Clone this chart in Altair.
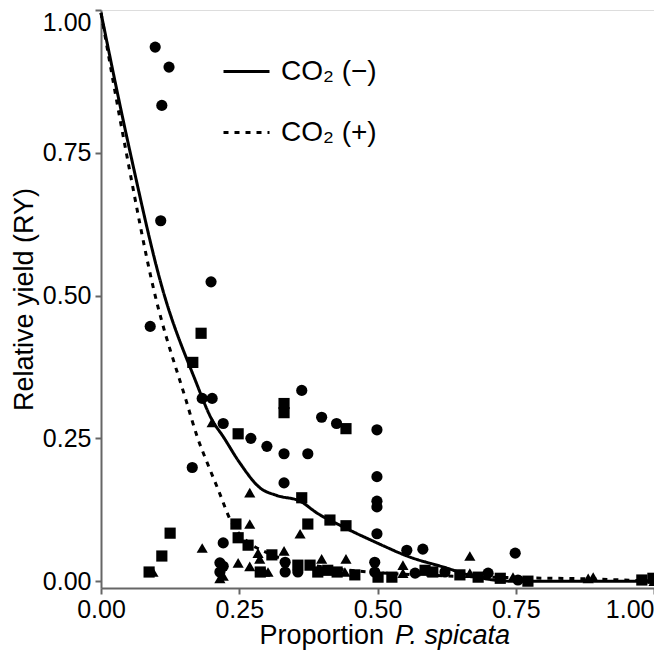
import altair as alt
import pandas as pd

# ---- data ----
x_ticks = [0.0, 0.25, 0.5, 0.75, 1.0]
y_ticks = [0.0, 0.25, 0.5, 0.75, 1.0]

pt_x = [0.098, 0.123, 0.110, 0.108, 0.199, 0.089, 0.181, 0.166, 0.183, 0.201, 0.201, 0.221, 0.248, 0.271,
        0.300, 0.165, 0.269, 0.269, 0.244, 0.248, 0.125, 0.183, 0.221, 0.110, 0.094, 0.087, 0.221, 0.221,
        0.248, 0.269, 0.287, 0.296,
        0.363, 0.331, 0.331, 0.399, 0.426, 0.443, 0.499, 0.331, 0.374, 0.499, 0.331, 0.499, 0.499, 0.363,
        0.374, 0.360, 0.499, 0.414, 0.443, 0.553, 0.582, 0.667, 0.749, 0.331, 0.399, 0.443,
        0.309, 0.333, 0.302, 0.333, 0.356, 0.356, 0.378, 0.392, 0.410, 0.427, 0.441, 0.459, 0.495, 0.495,
        0.501, 0.526,
        0.546, 0.546, 0.568, 0.586, 0.600, 0.622, 0.649, 0.667, 0.682, 0.700, 0.722, 0.745,
        0.754, 0.772, 0.881, 0.890, 0.978, 0.998, 1.000,
        0.215, 0.215, 0.215, 0.284, 0.288, 0.266]
pt_y = [0.935, 0.900, 0.833, 0.631, 0.524, 0.446, 0.434, 0.383, 0.320, 0.320, 0.278, 0.276, 0.258, 0.250,
        0.236, 0.199, 0.155, 0.100, 0.100, 0.076, 0.084, 0.058, 0.067, 0.044, 0.016, 0.016, 0.026, 0.009,
        0.032, 0.026, 0.039, 0.016,
        0.334, 0.311, 0.295, 0.287, 0.276, 0.267, 0.265, 0.223, 0.223, 0.183, 0.172, 0.140, 0.130, 0.146,
        0.100, 0.083, 0.083, 0.107, 0.097, 0.054, 0.056, 0.044, 0.049, 0.053, 0.039, 0.039,
        0.046, 0.033, 0.016, 0.016, 0.028, 0.016, 0.028, 0.016, 0.019, 0.016, 0.016, 0.011, 0.033, 0.016,
        0.007, 0.007,
        0.028, 0.014, 0.014, 0.019, 0.016, 0.016, 0.011, 0.014, 0.007, 0.014, 0.005, 0.007,
        0.002, 0.000, 0.005, 0.007, 0.002, 0.005, 0.000,
        0.032, 0.016, 0.005, 0.049, 0.016, 0.063]
pt_shape = ['c', 'c', 'c', 'c', 'c', 'c', 's', 's', 'c', 'c', 't', 'c', 's', 'c',
            'c', 'c', 't', 't', 's', 's', 's', 't', 'c', 's', 't', 's', 'c', 't',
            't', 't', 't', 't',
            'c', 's', 's', 'c', 'c', 's', 'c', 'c', 'c', 'c', 'c', 'c', 'c', 's',
            's', 't', 'c', 's', 's', 'c', 'c', 't', 'c', 't', 't', 't',
            's', 'c', 't', 'c', 's', 'c', 's', 's', 's', 's', 't', 's', 'c', 'c',
            's', 's',
            't', 't', 'c', 's', 's', 'c', 's', 't', 's', 'c', 's', 't',
            'c', 's', 't', 't', 's', 's', 't',
            'c', 'c', 't', 't', 's', 's']

solid_x = [0.0, 0.052, 0.112, 0.170, 0.201, 0.221, 0.251, 0.288, 0.318, 0.360, 0.391, 0.438, 0.499,
           0.559, 0.618, 0.680, 0.740, 1.0]
solid_y = [0.995, 0.754, 0.509, 0.353, 0.282, 0.253, 0.207, 0.163, 0.150, 0.140, 0.119, 0.095, 0.067,
           0.042, 0.025, 0.007, 0.0, 0.0]

dot_x = [0.0, 0.045, 0.096, 0.154, 0.175, 0.193, 0.212, 0.235, 0.271, 0.300, 0.330, 0.400, 0.500,
         0.600, 0.750, 0.880, 1.0]
dot_y = [0.995, 0.754, 0.508, 0.316, 0.250, 0.205, 0.160, 0.105, 0.065, 0.050, 0.038, 0.025, 0.015,
         0.010, 0.006, 0.004, 0.0]

series_names = ["CO\u2082 (\u2212)", "CO\u2082 (+)"]

# ---- tables ----
pts = pd.DataFrame({"x": pt_x, "y": pt_y, "g": pt_shape})
lines = pd.concat([
    pd.DataFrame({"x": solid_x, "y": solid_y, "s": series_names[0], "o": range(len(solid_x))}),
    pd.DataFrame({"x": dot_x, "y": dot_y, "s": series_names[1], "o": range(len(dot_x))}),
])

FONT = "Liberation Sans"

x_enc = alt.X("x:Q", scale=alt.Scale(domain=[0, 1], nice=False, zero=False),
              axis=alt.Axis(values=x_ticks, format=".2f", title=None, grid=False,
                            labelFontSize=25, labelPadding=3, tickSize=6, tickWidth=2,
                            labelFlush=False, labelOverlap=False,
                            labelAlign={"condition": {"test": "datum.value == 1", "value": "right"},
                                        "value": "center"},
                            domainWidth=2, domainColor="#666666", tickColor="#666666",
                            labelColor="black", labelFont=FONT))
y_enc = alt.Y("y:Q", scale=alt.Scale(domain=[-0.012, 1.0], nice=False, zero=False),
              axis=alt.Axis(values=y_ticks, format=".2f", title="Relative yield (RY)", grid=False,
                            labelFontSize=25, labelPadding=4, tickSize=6, tickWidth=2,
                            labelFlush=False, labelOverlap=False,
                            labelBaseline={"condition": {"test": "datum.value == 1", "value": "top"},
                                           "value": "middle"},
                            domainWidth=2, domainColor="#666666", tickColor="#666666",
                            labelColor="black", labelFont=FONT,
                            titleFontSize=27, titleFont=FONT, titleFontWeight="normal",
                            titleColor="black", titleX=-77, titleY=289,
                            titleAlign="center", titleBaseline="middle", titleAngle=-90))

points = alt.Chart(pts).mark_point(filled=True, color="black", opacity=1, size=125).encode(
    x=x_enc, y=y_enc,
    shape=alt.Shape("g:N", scale=alt.Scale(domain=["c", "s", "t"],
                                           range=["circle", "square", "triangle-up"]),
                    legend=None),
)

line_layer = alt.Chart(lines).mark_line(color="black", strokeWidth=3, interpolate="monotone").encode(
    x="x:Q", y="y:Q", order="o:Q",
    strokeDash=alt.StrokeDash("s:N",
                              scale=alt.Scale(domain=series_names, range=[[1, 0], [5, 6]]),
                              legend=alt.Legend(title=None, orient="none", legendX=121, legendY=37,
                                                symbolType="stroke", symbolSize=2116,
                                                symbolStrokeWidth=3, symbolStrokeColor="black",
                                                labelFontSize=28, labelFont=FONT, labelColor="black",
                                                labelOffset=10, rowPadding=22)),
)

t1 = alt.Chart(alt.Data(values=[{"t": "Proportion"}])).mark_text(
    align="right", baseline="alphabetic", fontSize=27, font=FONT, color="black"
).encode(text="t:N", x=alt.value(283), y=alt.value(634))
t2 = alt.Chart(alt.Data(values=[{"t": "P. spicata"}])).mark_text(
    align="left", baseline="alphabetic", fontSize=27, font=FONT, fontStyle="italic", color="black"
).encode(text="t:N", x=alt.value(294), y=alt.value(634))

chart = alt.layer(points, line_layer, t1, t2).properties(
    width=553, height=578,
    padding={"left": 93, "top": 2, "right": 0, "bottom": 62},
    autosize=alt.AutoSizeParams(type="none"),
).configure_view(stroke=None).configure(background="white")

chart.save("out.html", embed_options={"renderer": "svg", "actions": False})
